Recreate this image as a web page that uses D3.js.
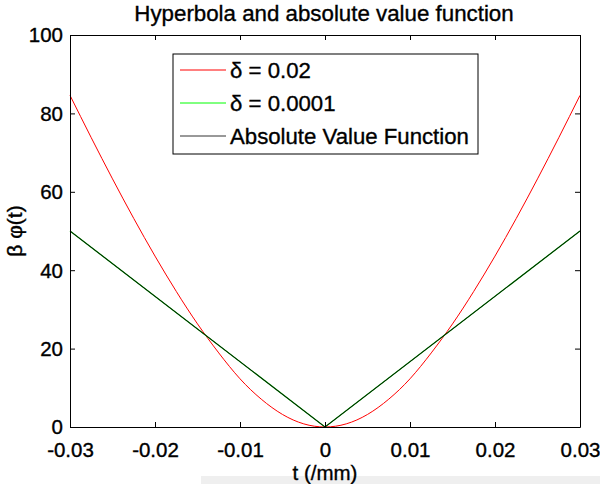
<!DOCTYPE html>
<html>
<head>
<meta charset="utf-8">
<script src="https://cdn.jsdelivr.net/npm/d3@7"></script>
<style>
  html, body { margin: 0; padding: 0; background: #fff; }
  svg { display: block; }
  text { font-family: "Liberation Sans", Arial, Helvetica, sans-serif; fill: #000; stroke: #000; stroke-width: 0.35px; }
</style>
</head>
<body>
<svg id="chart" width="600" height="484"></svg>
<script>
// ---- data ----
const tRed = [-0.03, -0.0275, -0.025, -0.0225, -0.02, -0.0175, -0.015, -0.0125, -0.01, -0.0075, -0.005, -0.0025,
              0, 0.0025, 0.005, 0.0075, 0.01, 0.0125, 0.015, 0.0175, 0.02, 0.0225, 0.025, 0.0275, 0.03];
const redValues = [84.6, 73.8, 63.3, 53.2, 43.6, 34.6, 26.3, 18.9, 12.3, 7.1, 3.2, 0.8,
                   0, 0.8, 3.2, 7.1, 12.3, 18.9, 26.3, 34.6, 43.6, 53.2, 63.3, 73.8, 84.6];
const tLin = [-0.03, 0, 0.03];
const greenValues = [50, 0, 50];
const absValues = [50, 0, 50];
const xTicks = [-0.03, -0.02, -0.01, 0, 0.01, 0.02, 0.03];
const xTickLabels = ["-0.03", "-0.02", "-0.01", "0", "0.01", "0.02", "0.03"];
const yTicks = [0, 20, 40, 60, 80, 100];
const legendLabels = ["\u03b4 = 0.02", "\u03b4 = 0.0001", "Absolute Value Function"];
const seriesColors = ["#ff0000", "#00ff00", "#000000"];
const titleText = "Hyperbola and absolute value function";
const xLabel = "t (/mm)";
const yLabel = "\u03b2 \u03c6(t)";

// ---- layout ----
const L = 70, R = 580, T = 35, B = 427;
const svg = d3.select("#chart");
const x = d3.scaleLinear().domain([-0.03, 0.03]).range([L, R]);
const y = d3.scaleLinear().domain([0, 100]).range([B, T]);
const FS = 20.5;

// faint grey artifact bar at bottom
svg.append("rect").attr("x", 201).attr("y", 476).attr("width", 399).attr("height", 8)
  .attr("fill", "#efefef");

// curves
const lineRed = d3.line().x((d, i) => x(tRed[i])).y(d => y(d)).curve(d3.curveNatural);
const lineLin = d3.line().x((d, i) => x(tLin[i])).y(d => y(d));
const plot = svg.append("g");
plot.append("path").datum(redValues).attr("d", lineRed)
  .attr("fill", "none").attr("stroke", seriesColors[0]).attr("stroke-width", 1);
plot.append("path").datum(greenValues).attr("d", lineLin)
  .attr("fill", "none").attr("stroke", "#00a000").attr("stroke-width", 1.3);
plot.append("path").datum(absValues).attr("d", lineLin)
  .attr("fill", "none").attr("stroke", seriesColors[2]).attr("stroke-width", 1).attr("stroke-opacity", 0.8);

// axes (box with inward ticks)
const fmtX = (d, i) => xTickLabels[i];
const axB = svg.append("g").attr("transform", `translate(0,${B})`)
  .call(d3.axisBottom(x).tickValues(xTicks).tickFormat(fmtX).tickSizeInner(-5).tickSizeOuter(0).tickPadding(15));
const axT = svg.append("g").attr("transform", `translate(0,${T})`)
  .call(d3.axisTop(x).tickValues(xTicks).tickFormat("").tickSizeInner(-5).tickSizeOuter(0));
const axL = svg.append("g").attr("transform", `translate(${L},0)`)
  .call(d3.axisLeft(y).tickValues(yTicks).tickSizeInner(-5).tickSizeOuter(0).tickPadding(7));
const axR = svg.append("g").attr("transform", `translate(${R},0)`)
  .call(d3.axisRight(y).tickValues(yTicks).tickFormat("").tickSizeInner(-5).tickSizeOuter(0));
[axB, axT, axL, axR].forEach(g => {
  g.select(".domain").attr("stroke", "#000").attr("stroke-width", 1);
  g.selectAll(".tick line").attr("stroke", "#000");
  g.selectAll("text").attr("font-size", FS).attr("font-family", "Liberation Sans, Arial, sans-serif").attr("fill", "#000");
});
axL.selectAll("text").attr("dy", "0.34em");

// title
svg.append("text").attr("x", (L + R) / 2 - 1).attr("y", 21).attr("text-anchor", "middle")
  .attr("font-size", 22.3).text(titleText);
// axis labels
svg.append("text").attr("x", (L + R) / 2).attr("y", 480).attr("text-anchor", "middle")
  .attr("font-size", FS).text(xLabel);
svg.append("text").attr("transform", `translate(22,${(T + B) / 2}) rotate(-90)`)
  .attr("text-anchor", "middle").attr("font-size", 21).text(yLabel);

// legend
const lg = svg.append("g");
lg.append("rect").attr("x", 173).attr("y", 54).attr("width", 305).attr("height", 100)
  .attr("fill", "#fff").attr("stroke", "#000").attr("stroke-width", 1);
const rowY = [70, 103, 136];
legendLabels.forEach((lab, i) => {
  lg.append("line").attr("x1", 180).attr("x2", 226).attr("y1", rowY[i]).attr("y2", rowY[i])
    .attr("stroke", i === 2 ? "#333" : seriesColors[i]).attr("stroke-width", 1);
  lg.append("text").attr("x", 230).attr("y", rowY[i]).attr("dy", "0.36em")
    .attr("font-size", 22.2).text(lab);
});
</script>
</body>
</html>
